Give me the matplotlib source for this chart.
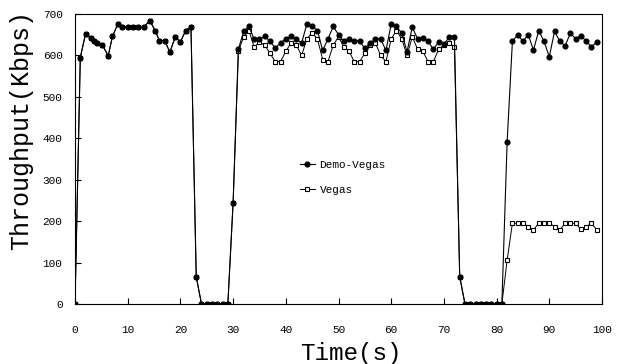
import matplotlib
matplotlib.use("Agg")
import matplotlib.pyplot as plt

# ---- data (time in s, throughput in Kbps)
t_demo = [0, 1, 2, 3, 3.6, 4.2, 5.2, 6.3, 7.1, 8.1, 9, 10, 11, 12, 13, 14.2, 15.2,
          16, 17, 18, 19, 20, 21, 22, 23, 24, 25, 26, 27, 28, 29,
          30, 31, 32, 33, 34, 35, 36, 37, 38, 39, 40, 41, 42, 43, 44, 45, 46, 47,
          48, 49, 50, 51, 52, 53, 54, 55, 56, 57, 58, 59, 60, 61, 62, 63, 64, 65,
          66, 67, 68, 69, 70, 71, 72, 73, 74, 75, 76, 77, 78, 79, 80, 81, 82,
          83, 84, 85, 86, 87, 88, 89, 90, 91, 92, 93, 94, 95, 96, 97, 98, 99]
demo_vegas = [0, 595, 652, 642, 636, 630, 625, 599, 646, 675, 668, 668, 668, 668, 668, 684, 660,
              636, 636, 608, 644, 633, 660, 669, 66, 0, 0, 0, 0, 0, 0,
              245, 615, 658, 670, 639, 640, 646, 634, 618, 630, 640, 646, 639, 630, 676, 670, 660, 612,
              640, 670, 650, 634, 639, 636, 634, 617, 630, 640, 640, 612, 676, 670, 654, 609, 668, 640,
              643, 634, 615, 632, 627, 644, 644, 66, 0, 0, 0, 0, 0, 0, 0, 0, 392,
              634, 650, 634, 650, 613, 660, 634, 597, 658, 634, 623, 654, 640, 648, 634, 621, 632]
vegas = [0, 595, 652, 642, 636, 630, 625, 599, 646, 675, 668, 668, 668, 668, 668, 684, 660,
         636, 636, 608, 644, 633, 660, 669, 66, 0, 0, 0, 0, 0, 0,
         245, 610, 645, 660, 620, 632, 625, 605, 585, 585, 610, 630, 625, 600, 640, 655, 640, 590,
         585, 625, 645, 620, 610, 585, 585, 605, 625, 630, 600, 585, 640, 660, 640, 600, 645, 615,
         610, 585, 585, 615, 625, 630, 620, 66, 0, 0, 0, 0, 0, 0, 0, 0, 106,
         195, 195, 195, 187, 179, 195, 195, 195, 187, 179, 195, 195, 195, 180, 187, 195, 179]

x_ticks = list(range(0, 101, 10))
y_ticks = list(range(0, 701, 100))

font = "Liberation Mono"

fig = plt.figure(figsize=(6.18, 3.64), dpi=100)
ax = fig.add_axes([0.1214, 0.1648, 0.8527, 0.7967])

ax.plot(t_demo, vegas, color="black", lw=0.7, marker="s", ms=3.0,
        mfc="white", mec="black", mew=0.8, label="Vegas", zorder=2)
ax.plot(t_demo, demo_vegas, color="black", lw=0.8, marker="o", ms=3.4,
        mfc="black", mec="black", label="Demo-Vegas", zorder=3)

ax.set_xlim(0, 100)
ax.set_ylim(0, 700)
ax.set_xticks(x_ticks)
ax.set_yticks(y_ticks)
ax.tick_params(direction="in", length=4, width=0.8)
ax.tick_params(axis="x", pad=15)
ax.tick_params(axis="y", pad=9)
for lab in ax.get_xticklabels() + ax.get_yticklabels():
    lab.set_fontfamily(font)
    lab.set_fontsize(8)

ax.set_xlabel("Time(s)", fontfamily=font, fontsize=17.5)
ax.set_ylabel("Throughput(Kbps)", fontfamily=font, fontsize=18)
ax.xaxis.set_label_coords(0.524, -0.13)
ax.yaxis.set_label_coords(-0.08, 0.60)

handles, labels = ax.get_legend_handles_labels()
leg = ax.legend(handles[::-1], labels[::-1], loc="upper left",
                bbox_to_anchor=(0.407, 0.532), frameon=False, handlelength=1.4,
                handletextpad=0.4, labelspacing=1.34,
                prop={"family": font, "size": 8})

fig.savefig("out.png", dpi=100)
